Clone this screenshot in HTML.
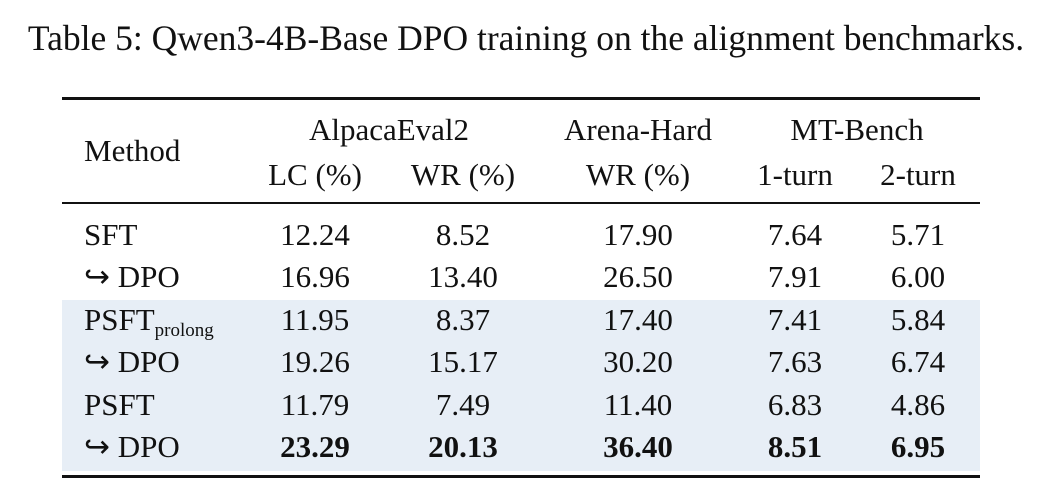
<!DOCTYPE html>
<html><head><meta charset="utf-8"><style>
body{margin:0;width:1046px;height:500px;background:#fff;position:relative;overflow:hidden;font-family:"Liberation Serif",serif;color:#111}
.t{position:absolute;font-size:31px;line-height:34px;white-space:nowrap;transform:translate(-50%,-50%)}
.l{position:absolute;font-size:31px;line-height:34px;white-space:nowrap;transform:translateY(-50%)}
.r{position:absolute;left:62px;width:918px;background:#111}
b{font-weight:bold}
sub{font-size:19px;line-height:0;vertical-align:-6px}
</style></head><body>
<div class="t" style="left:526px;top:38px;font-size:35.5px">Table 5: Qwen3-4B-Base DPO training on the alignment benchmarks.</div>
<div style="position:absolute;left:62px;top:300px;width:918px;height:171px;background:#e7eef6"></div>
<div class="r" style="top:97px;height:3px"></div>
<div class="r" style="top:202px;height:2px"></div>
<div class="r" style="top:475px;height:3px"></div>
<div class="l" style="left:84px;top:151px">Method</div>
<div class="t" style="left:389px;top:130px">AlpacaEval2</div>
<div class="t" style="left:638px;top:130px">Arena-Hard</div>
<div class="t" style="left:857px;top:130px">MT-Bench</div>
<div class="t" style="left:315px;top:175px">LC (%)</div>
<div class="t" style="left:463px;top:175px">WR (%)</div>
<div class="t" style="left:638px;top:175px">WR (%)</div>
<div class="t" style="left:795px;top:175px">1-turn</div>
<div class="t" style="left:918px;top:175px">2-turn</div>
<div id="rows"></div>
<script>
const methods=["SFT","↪ DPO","PSFT<sub>prolong</sub>","↪ DPO","PSFT","↪ DPO"];
const lc=["12.24","16.96","11.95","19.26","11.79","23.29"];
const wr=["8.52","13.40","8.37","15.17","7.49","20.13"];
const arena=["17.90","26.50","17.40","30.20","11.40","36.40"];
const t1=["7.64","7.91","7.41","7.63","6.83","8.51"];
const t2=["5.71","6.00","5.84","6.74","4.86","6.95"];
const cols=[[lc,315,"lc"],[wr,463,"wr"],[arena,638,"arena"],[t1,795,"turn1"],[t2,918,"turn2"]];
const c=document.getElementById('rows');
methods.forEach((m,i)=>{
  const y=235+i*42.4;
  const d=document.createElement('div');d.className='l';
  
  
  d.style.left='84px';d.style.top=y+'px';d.innerHTML=m;c.appendChild(d);
  cols.forEach(([arr,x,n])=>{
    const e=document.createElement('div');e.className='t';
    
    
    e.style.left=x+'px';e.style.top=y+'px';
    e.innerHTML=i===5?'<b>'+arr[i]+'</b>':arr[i];c.appendChild(e);
  });
});
</script>
</body></html>
